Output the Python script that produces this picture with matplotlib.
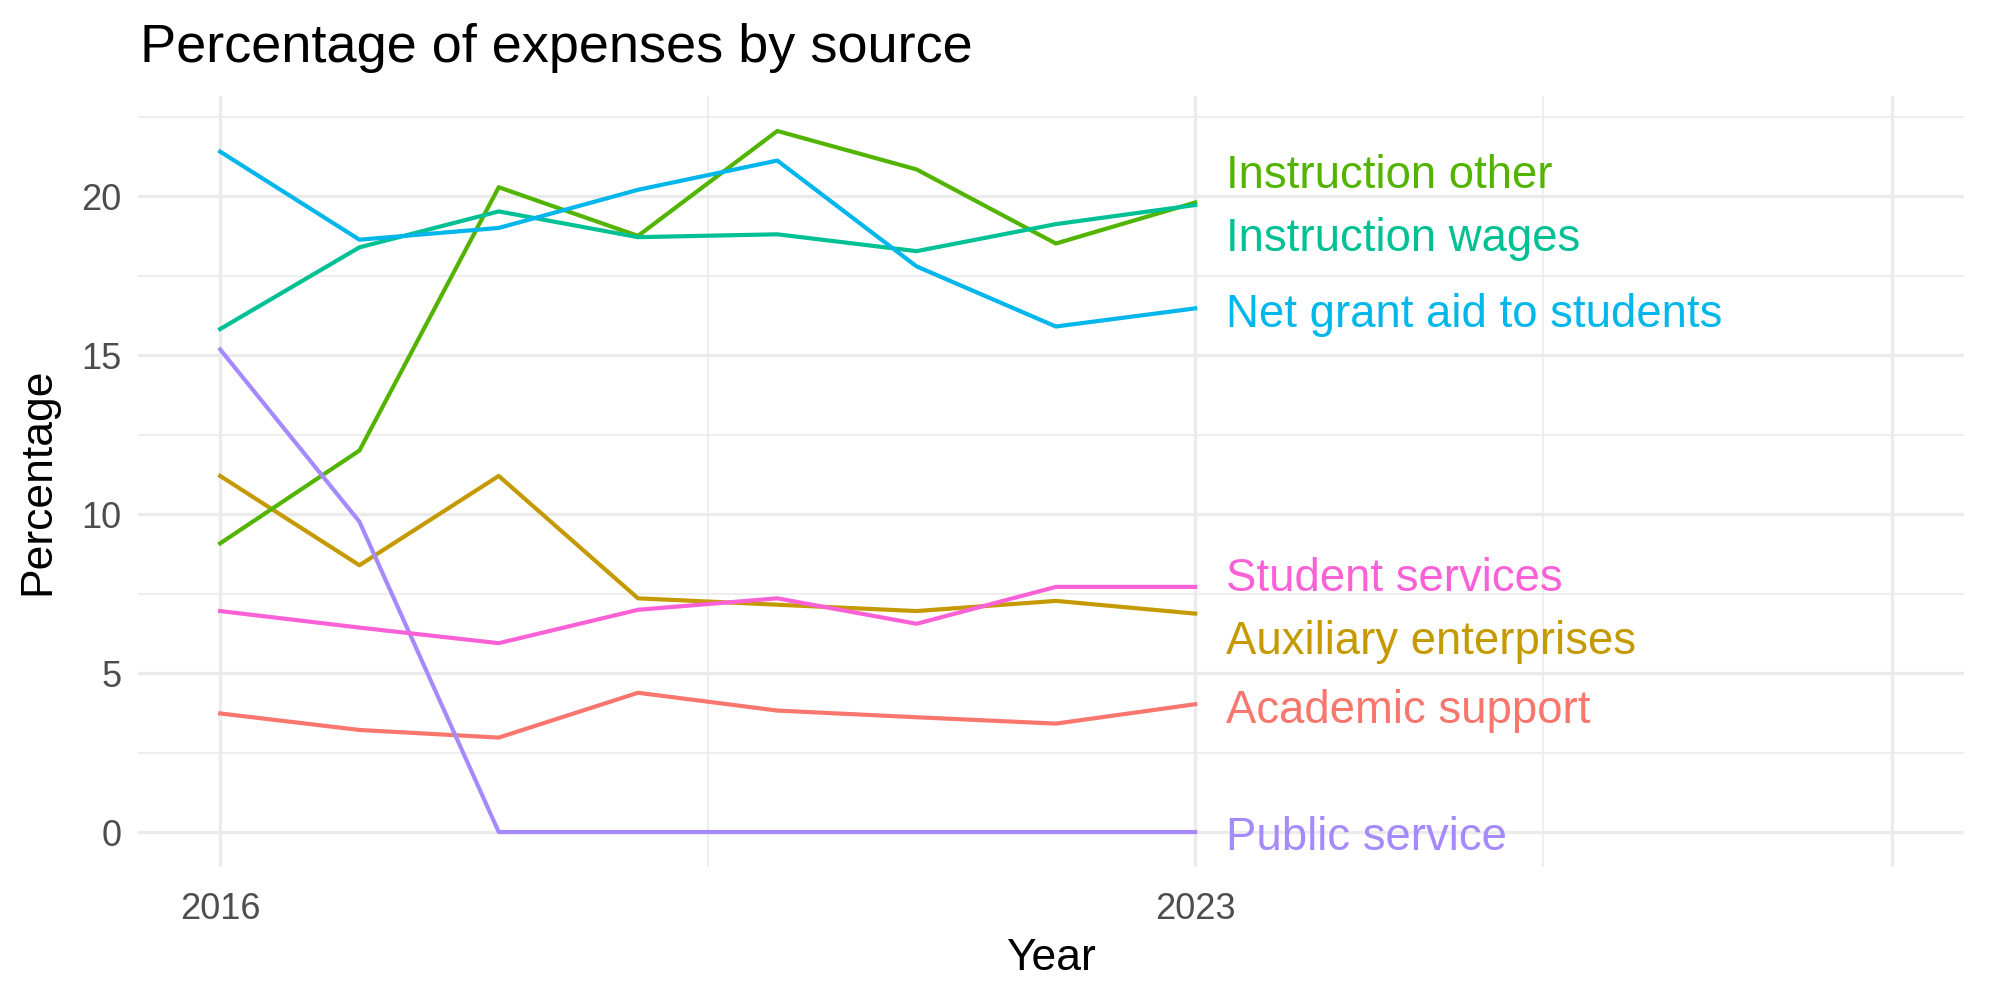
import numpy as np
import matplotlib
matplotlib.use("Agg")
from matplotlib import pyplot as plt

plt.rcParams['font.family'] = ['Liberation Sans', 'DejaVu Sans']

years = [2016, 2017, 2018, 2019, 2020, 2021, 2022, 2023]

academic_support = [3.73, 3.21, 2.97, 4.38, 3.82, 3.61, 3.41, 4.02]
auxiliary = [11.2, 8.39, 11.2, 7.35, 7.15, 6.95, 7.27, 6.87]
instruction_other = [9.08, 12.0, 20.28, 18.75, 22.05, 20.84, 18.51, 19.8]
instruction_wages = [15.82, 18.39, 19.52, 18.71, 18.8, 18.27, 19.12, 19.72]
net_grant = [21.4, 18.63, 19.0, 20.2, 21.12, 17.79, 15.9, 16.47]
public_service = [15.18, 9.76, 0, 0, 0, 0, 0, 0]
student_services = [6.95, 6.43, 5.94, 6.99, 7.35, 6.55, 7.71, 7.71]

series = [
    ("Academic support", academic_support, "#F8766D", 4.02),
    ("Auxiliary enterprises", auxiliary, "#C49A00", 6.18),
    ("Instruction other", instruction_other, "#53B400", 20.84),
    ("Instruction wages", instruction_wages, "#00C094", 18.84),
    ("Net grant aid to students", net_grant, "#00B6EB", 16.47),
    ("Public service", public_service, "#A58AFF", 0.0),
    ("Student services", student_services, "#FB61D7", 8.15),
]

fig = plt.figure(figsize=(10, 5), dpi=200)
ax = fig.add_axes([0.069, 0.133, 0.913, 0.771])

# grid like theme_minimal
for y in [0, 5, 10, 15, 20]:
    ax.axhline(y, color="#EBEBEB", lw=1.2, zorder=0)
for y in [2.5, 7.5, 12.5, 17.5, 22.5]:
    ax.axhline(y, color="#EBEBEB", lw=0.6, zorder=0)
for x in [2016, 2023, 2028]:
    ax.axvline(x, color="#EBEBEB", lw=1.2, zorder=0)
for x in [2019.5, 2025.5]:
    ax.axvline(x, color="#EBEBEB", lw=0.6, zorder=0)

for name, vals, col, ylab in series:
    ax.plot(years, vals, color=col, lw=1.5, zorder=2)
    ax.text(years[-1] + 0.22, ylab - 0.2, name, color=col, fontsize=16.4,
            ha="left", va="center", zorder=3)

ax.set_xlim(2015.41, 2028.52)
ax.set_ylim(-1.1, 23.15)
ax.set_xticks([2016, 2023])
ax.set_yticks([0, 5, 10, 15, 20])
ax.tick_params(length=0, labelsize=13, labelcolor="#4D4D4D")
ax.tick_params(axis="x", pad=9)
ax.tick_params(axis="y", pad=6)
for s in ax.spines.values():
    s.set_visible(False)

ax.set_xlabel("Year", fontsize=16, color="black", labelpad=4)
ax.set_ylabel("Percentage", fontsize=16, color="black", labelpad=8)
fig.text(0.07, 0.952, "Percentage of expenses by source", fontsize=19.5,
         ha="left", va="center")

fig.savefig("out.png", dpi=200)
